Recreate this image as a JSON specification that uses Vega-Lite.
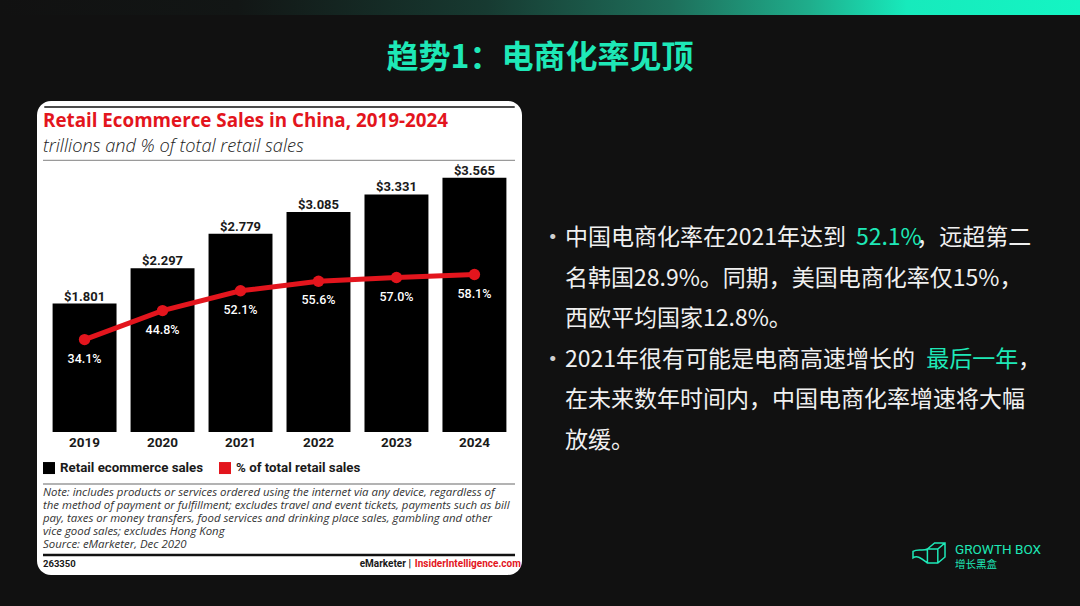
{
  "$schema": "https://vega.github.io/schema/vega-lite/v6.json",
  "background": "#111111",
  "padding": 0,
  "spacing": 0,
  "bounds": "full",
  "config": {
    "view": {"stroke": null},
    "concat": {"spacing": 0},
    "font": "Roboto"
  },
  "datasets": {
    "ecom": [
      {"year": "2019", "sales": 1.801, "share": 0.341},
      {"year": "2020", "sales": 2.297, "share": 0.448},
      {"year": "2021", "sales": 2.779, "share": 0.521},
      {"year": "2022", "sales": 3.085, "share": 0.556},
      {"year": "2023", "sales": 3.331, "share": 0.570},
      {"year": "2024", "sales": 3.565, "share": 0.581}
    ],
    "bullets": [
      {"line": 1, "text": "中国电商化率在2021年达到"},
      {"line": 2, "text": "名韩国28.9%。同期，美国电商化率仅15%，"},
      {"line": 3, "text": "西欧平均国家12.8%。"},
      {"line": 4, "text": "2021年很有可能是电商高速增长的"},
      {"line": 5, "text": "在未来数年时间内，中国电商化率增速将大幅"},
      {"line": 6, "text": "放缓。"}
    ]
  },
  "vconcat": [
    {
      "width": 1080,
      "height": 15,
      "view": {"fill": "#111111", "stroke": null},
      "data": {"values": [{}]},
      "mark": {
        "type": "rect",
        "fill": {
          "gradient": "linear", "x1": 0, "y1": 0, "x2": 1, "y2": 0,
          "stops": [
            {"offset": 0, "color": "#111111"},
            {"offset": 0.22, "color": "#121615"},
            {"offset": 0.45, "color": "#173a31"},
            {"offset": 0.62, "color": "#1e6e5a"},
            {"offset": 0.75, "color": "#1fae8c"},
            {"offset": 0.84, "color": "#17eabc"},
            {"offset": 1, "color": "#14f5c3"}
          ]
        }
      },
      "encoding": {}
    },
    {
      "width": 1080,
      "height": 86,
      "view": {"fill": "#111111", "stroke": null},
      "data": {"values": [{}]},
      "mark": {
        "type": "text",
        "text": "趋势1：电商化率见顶",
        "font": "Noto Sans CJK SC",
        "fontSize": 32,
        "fontWeight": "bold",
        "color": "#1ee8b7"
      },
      "encoding": {}
    },
    {
      "hconcat": [
        {"width": 37, "height": 1, "view": {"fill": "#111111", "stroke": null}, "data": {"values": []}, "mark": "rect", "encoding": {}},
        {
          "vconcat": [
            {
              "width": 485,
              "height": 60,
              "view": {"fill": "white", "cornerRadius": 14, "stroke": null},
              "data": {"values": [{}]},
              "layer": [
                {
                  "mark": {"type": "rect", "color": "white"},
                  "encoding": {
                    "y": {"datum": 0, "type": "quantitative", "scale": {"domain": [0, 1]}, "axis": null},
                    "y2": {"datum": 0.5}
                  }
                },
                {
                  "mark": {"type": "rule", "color": "#111111", "strokeWidth": 1.5},
                  "encoding": {
                    "x": {"datum": 0.015, "type": "quantitative", "scale": {"domain": [0, 1]}, "axis": null},
                    "x2": {"datum": 0.985},
                    "y": {"datum": 0.9, "type": "quantitative", "scale": {"domain": [0, 1]}, "axis": null}
                  }
                },
                {
                  "mark": {"type": "text", "text": "Retail Ecommerce Sales in China, 2019-2024", "align": "left", "font": "Open Sans", "fontWeight": "bold", "fontSize": 18.8, "color": "#e3151d"},
                  "encoding": {
                    "x": {"datum": 0.0124, "type": "quantitative", "scale": {"domain": [0, 1]}, "axis": null},
                    "y": {"datum": 0.66, "type": "quantitative", "scale": {"domain": [0, 1]}, "axis": null}
                  }
                },
                {
                  "mark": {"type": "text", "text": "trillions and % of total retail sales", "align": "left", "font": "Open Sans", "fontStyle": "italic", "fontWeight": 300, "fontSize": 18.2, "color": "#1a1a1a"},
                  "encoding": {
                    "x": {"datum": 0.0124, "type": "quantitative", "scale": {"domain": [0, 1]}, "axis": null},
                    "y": {"datum": 0.23, "type": "quantitative", "scale": {"domain": [0, 1]}, "axis": null}
                  }
                },
                {
                  "mark": {"type": "rule", "color": "#9a9a9a", "strokeWidth": 1.5},
                  "encoding": {
                    "x": {"datum": 0.0124, "type": "quantitative", "scale": {"domain": [0, 1]}, "axis": null},
                    "x2": {"datum": 0.9856},
                    "y": {"datum": 0.01, "type": "quantitative", "scale": {"domain": [0, 1]}, "axis": null}
                  }
                }
              ]
            },
            {
              "width": 485,
              "height": 271,
              "view": {"fill": "white", "stroke": null},
              "data": {"name": "ecom"},
              "encoding": {
                "x": {"field": "year", "type": "ordinal", "scale": {"type": "band", "paddingInner": 0.18, "paddingOuter": 0.2}, "axis": null}
              },
              "layer": [
                {
                  "mark": {"type": "bar", "color": "#000000"},
                  "encoding": {
                    "y": {"field": "sales", "type": "quantitative", "scale": {"domain": [0, 3.8]}, "axis": null}
                  }
                },
                {
                  "mark": {"type": "text", "baseline": "alphabetic", "dy": -3, "font": "Roboto", "fontWeight": "bold", "fontSize": 13, "color": "#1a1a1a"},
                  "encoding": {
                    "y": {"field": "sales", "type": "quantitative", "scale": {"domain": [0, 3.8]}, "axis": null},
                    "text": {"field": "sales", "type": "quantitative", "format": "$.3f"}
                  }
                },
                {
                  "mark": {"type": "line", "color": "#e3151d", "strokeWidth": 5},
                  "encoding": {
                    "y": {"field": "share", "type": "quantitative", "scale": {"domain": [0, 1]}, "axis": null}
                  }
                },
                {
                  "mark": {"type": "point", "filled": true, "size": 130, "color": "#e3151d", "opacity": 1},
                  "encoding": {
                    "y": {"field": "share", "type": "quantitative", "scale": {"domain": [0, 1]}, "axis": null}
                  }
                },
                {
                  "mark": {"type": "text", "dy": 19, "font": "Roboto", "fontWeight": 500, "fontSize": 12.5, "color": "#ffffff"},
                  "encoding": {
                    "y": {"field": "share", "type": "quantitative", "scale": {"domain": [0, 1]}, "axis": null},
                    "text": {"field": "share", "type": "quantitative", "format": ".1%"}
                  }
                },
                {
                  "data": {"values": [{}]},
                  "mark": {"type": "rule", "color": "#8a8a8a", "strokeWidth": 1.5},
                  "encoding": {
                    "x": {"datum": 0.0124, "type": "quantitative", "scale": {"domain": [0, 1]}, "axis": null},
                    "x2": {"datum": 0.9856},
                    "y": {"datum": 0, "type": "quantitative", "scale": {"domain": [0, 1]}, "axis": null}
                  }
                }
              ],
              "resolve": {"scale": {"x": "independent", "y": "independent"}}
            },
            {
              "width": 485,
              "height": 22,
              "view": {"fill": "white", "stroke": null},
              "data": {"name": "ecom"},
              "mark": {"type": "text", "font": "Roboto", "fontWeight": "bold", "fontSize": 13.5, "color": "#1a1a1a"},
              "encoding": {
                "x": {"field": "year", "type": "ordinal", "scale": {"type": "band", "paddingInner": 0.18, "paddingOuter": 0.2}, "axis": null},
                "text": {"field": "year"}
              }
            },
            {
              "width": 485,
              "height": 121,
              "view": {"fill": "white", "cornerRadius": 14, "stroke": null},
              "data": {"values": [{}]},
              "layer": [
                {
                  "mark": {"type": "rect", "color": "white"},
                  "encoding": {
                    "y": {"datum": 0.5, "type": "quantitative", "scale": {"domain": [0, 1]}, "axis": null},
                    "y2": {"datum": 1}
                  }
                },
                {
                  "mark": {"type": "point", "shape": "square", "filled": true, "size": 144, "color": "#000000", "opacity": 1},
                  "encoding": {
                    "x": {"datum": 0.0247, "type": "quantitative", "scale": {"domain": [0, 1]}, "axis": null},
                    "y": {"datum": 0.884, "type": "quantitative", "scale": {"domain": [0, 1]}, "axis": null}
                  }
                },
                {
                  "mark": {"type": "text", "text": "Retail ecommerce sales", "align": "left", "font": "Roboto", "fontWeight": "bold", "fontSize": 13.3, "color": "#1a1a1a"},
                  "encoding": {
                    "x": {"datum": 0.0474, "type": "quantitative", "scale": {"domain": [0, 1]}, "axis": null},
                    "y": {"datum": 0.884, "type": "quantitative", "scale": {"domain": [0, 1]}, "axis": null}
                  }
                },
                {
                  "mark": {"type": "point", "shape": "square", "filled": true, "size": 144, "color": "#e3151d", "opacity": 1},
                  "encoding": {
                    "x": {"datum": 0.3876, "type": "quantitative", "scale": {"domain": [0, 1]}, "axis": null},
                    "y": {"datum": 0.884, "type": "quantitative", "scale": {"domain": [0, 1]}, "axis": null}
                  }
                },
                {
                  "mark": {"type": "text", "text": "% of total retail sales", "align": "left", "font": "Roboto", "fontWeight": "bold", "fontSize": 13.3, "color": "#1a1a1a"},
                  "encoding": {
                    "x": {"datum": 0.4103, "type": "quantitative", "scale": {"domain": [0, 1]}, "axis": null},
                    "y": {"datum": 0.884, "type": "quantitative", "scale": {"domain": [0, 1]}, "axis": null}
                  }
                },
                {
                  "mark": {"type": "rule", "color": "#9a9a9a", "strokeWidth": 1.5},
                  "encoding": {
                    "x": {"datum": 0.0124, "type": "quantitative", "scale": {"domain": [0, 1]}, "axis": null},
                    "x2": {"datum": 0.9856},
                    "y": {"datum": 0.752, "type": "quantitative", "scale": {"domain": [0, 1]}, "axis": null}
                  }
                },
                {
                  "mark": {
                    "type": "text",
                    "text": [
                      "Note: includes products or services ordered using the internet via any device, regardless of",
                      "the method of payment or fulfillment; excludes travel and event tickets, payments such as bill",
                      "pay, taxes or money transfers, food services and drinking place sales, gambling and other",
                      "vice good sales; excludes Hong Kong",
                      "Source: eMarketer, Dec 2020"
                    ],
                    "align": "left", "baseline": "top", "lineHeight": 12.9,
                    "font": "Open Sans", "fontStyle": "italic", "fontSize": 11.4, "color": "#333333"
                  },
                  "encoding": {
                    "x": {"datum": 0.0124, "type": "quantitative", "scale": {"domain": [0, 1]}, "axis": null},
                    "y": {"datum": 0.727, "type": "quantitative", "scale": {"domain": [0, 1]}, "axis": null}
                  }
                },
                {
                  "mark": {"type": "rule", "color": "#111111", "strokeWidth": 2.5},
                  "encoding": {
                    "x": {"datum": 0.0124, "type": "quantitative", "scale": {"domain": [0, 1]}, "axis": null},
                    "x2": {"datum": 0.9856},
                    "y": {"datum": 0.165, "type": "quantitative", "scale": {"domain": [0, 1]}, "axis": null}
                  }
                },
                {
                  "mark": {"type": "text", "text": "263350", "align": "left", "font": "Roboto", "fontWeight": "bold", "fontSize": 9.5, "color": "#1a1a1a"},
                  "encoding": {
                    "x": {"datum": 0.0124, "type": "quantitative", "scale": {"domain": [0, 1]}, "axis": null},
                    "y": {"datum": 0.091, "type": "quantitative", "scale": {"domain": [0, 1]}, "axis": null}
                  }
                },
                {
                  "mark": {"type": "text", "text": "eMarketer  |", "align": "right", "font": "Roboto", "fontWeight": "bold", "fontSize": 10, "color": "#1a1a1a"},
                  "encoding": {
                    "x": {"datum": 0.771, "type": "quantitative", "scale": {"domain": [0, 1]}, "axis": null},
                    "y": {"datum": 0.091, "type": "quantitative", "scale": {"domain": [0, 1]}, "axis": null}
                  }
                },
                {
                  "mark": {"type": "text", "text": "InsiderIntelligence.com", "align": "left", "font": "Roboto", "fontWeight": "bold", "fontSize": 10, "color": "#e3151d"},
                  "encoding": {
                    "x": {"datum": 0.779, "type": "quantitative", "scale": {"domain": [0, 1]}, "axis": null},
                    "y": {"datum": 0.091, "type": "quantitative", "scale": {"domain": [0, 1]}, "axis": null}
                  }
                }
              ]
            }
          ],
          "spacing": 0,
          "bounds": "flush"
        },
        {"width": 18, "height": 1, "view": {"fill": "#111111", "stroke": null}, "data": {"values": []}, "mark": "rect", "encoding": {}},
        {
          "vconcat": [
            {"width": 525, "height": 117, "view": {"fill": "#111111", "stroke": null}, "data": {"values": []}, "mark": "rect", "encoding": {}},
            {
              "width": 525,
              "height": 243,
              "view": {"fill": "#111111", "stroke": null},
              "layer": [
                {
                  "data": {"name": "bullets"},
                  "mark": {"type": "text", "align": "left", "font": "Noto Sans CJK SC", "fontSize": 23, "color": "#f0f0f0"},
                  "encoding": {
                    "x": {"datum": 1.07, "type": "quantitative", "scale": {"domain": [0, 22.5], "nice": false}, "axis": null},
                    "y": {"field": "line", "type": "ordinal", "axis": null},
                    "text": {"field": "text"}
                  }
                },
                {
                  "data": {"values": [{"line": 1}, {"line": 4}]},
                  "mark": {"type": "text", "text": "•", "align": "center", "font": "Noto Sans CJK SC", "fontSize": 24, "color": "#cfcfcf"},
                  "encoding": {
                    "x": {"datum": 0.55, "type": "quantitative", "scale": {"domain": [0, 22.5], "nice": false}, "axis": null},
                    "y": {"field": "line", "type": "ordinal", "axis": null}
                  }
                },
                {
                  "data": {"values": [{}]},
                  "mark": {"type": "text", "text": "52.1%", "align": "left", "font": "Noto Sans CJK SC", "fontSize": 23, "color": "#1ee8b7"},
                  "encoding": {
                    "x": {"datum": 13.54, "type": "quantitative", "scale": {"domain": [0, 22.5], "nice": false}, "axis": null},
                    "y": {"datum": 1, "type": "ordinal", "axis": null}
                  }
                },
                {
                  "data": {"values": [{}]},
                  "mark": {"type": "text", "text": "，远超第二", "align": "left", "font": "Noto Sans CJK SC", "fontSize": 23, "color": "#f0f0f0"},
                  "encoding": {
                    "x": {"datum": 16.12, "type": "quantitative", "scale": {"domain": [0, 22.5], "nice": false}, "axis": null},
                    "y": {"datum": 1, "type": "ordinal", "axis": null}
                  }
                },
                {
                  "data": {"values": [{}]},
                  "mark": {"type": "text", "text": "最后一年", "align": "left", "font": "Noto Sans CJK SC", "fontSize": 23, "color": "#1ee8b7"},
                  "encoding": {
                    "x": {"datum": 16.55, "type": "quantitative", "scale": {"domain": [0, 22.5], "nice": false}, "axis": null},
                    "y": {"datum": 4, "type": "ordinal", "axis": null}
                  }
                },
                {
                  "data": {"values": [{}]},
                  "mark": {"type": "text", "text": "，", "align": "left", "font": "Noto Sans CJK SC", "fontSize": 23, "color": "#f0f0f0"},
                  "encoding": {
                    "x": {"datum": 20.49, "type": "quantitative", "scale": {"domain": [0, 22.5], "nice": false}, "axis": null},
                    "y": {"datum": 4, "type": "ordinal", "axis": null}
                  }
                }
              ]
            },
            {"width": 525, "height": 77, "view": {"fill": "#111111", "stroke": null}, "data": {"values": []}, "mark": "rect", "encoding": {}},
            {
              "hconcat": [
                {"width": 370, "height": 36, "view": {"fill": "#111111", "stroke": null}, "data": {"values": []}, "mark": "rect", "encoding": {}},
                {
                  "width": 135,
                  "height": 36,
                  "view": {"fill": "#111111", "stroke": null},
                  "data": {"values": [{}]},
                  "layer": [
                    {
                      "mark": {
                        "type": "point",
                        "shape": "M-0.1,-0.25 L0.35,-0.63 L1,-0.63 L1,0.25 L0.55,0.63 L-0.1,0.63 Z M-0.1,-0.25 L0.55,-0.25 L1,-0.63 M0.55,-0.25 L0.55,0.63 M-0.1,-0.25 C-0.4,-0.1 -0.7,-0.3 -1,-0.1 L-1,0.3 C-0.7,0.1 -0.4,0.4 -0.1,0.63",
                        "filled": false, "size": 1024, "stroke": "#1ee8b7", "strokeWidth": 1.5, "opacity": 1
                      },
                      "encoding": {
                        "x": {"datum": 0.126, "type": "quantitative", "scale": {"domain": [0, 1]}, "axis": null},
                        "y": {"datum": 0.583, "type": "quantitative", "scale": {"domain": [0, 1]}, "axis": null}
                      }
                    },
                    {
                      "mark": {"type": "text", "text": "GROWTH BOX", "align": "left", "font": "Roboto", "fontSize": 13.5, "color": "#1ee8b7"},
                      "encoding": {
                        "x": {"datum": 0.319, "type": "quantitative", "scale": {"domain": [0, 1]}, "axis": null},
                        "y": {"datum": 0.67, "type": "quantitative", "scale": {"domain": [0, 1]}, "axis": null}
                      }
                    },
                    {
                      "mark": {"type": "text", "text": "增长黑盒", "align": "left", "font": "Noto Sans CJK SC", "fontSize": 10.5, "color": "#1ee8b7"},
                      "encoding": {
                        "x": {"datum": 0.319, "type": "quantitative", "scale": {"domain": [0, 1]}, "axis": null},
                        "y": {"datum": 0.25, "type": "quantitative", "scale": {"domain": [0, 1]}, "axis": null}
                      }
                    }
                  ]
                }
              ],
              "spacing": 0,
              "bounds": "full"
            }
          ],
          "spacing": 0,
          "bounds": "full"
        }
      ],
      "spacing": 0,
      "bounds": "full"
    },
    {"width": 1080, "height": 31, "view": {"fill": "#111111", "stroke": null}, "data": {"values": []}, "mark": "rect", "encoding": {}}
  ]
}
